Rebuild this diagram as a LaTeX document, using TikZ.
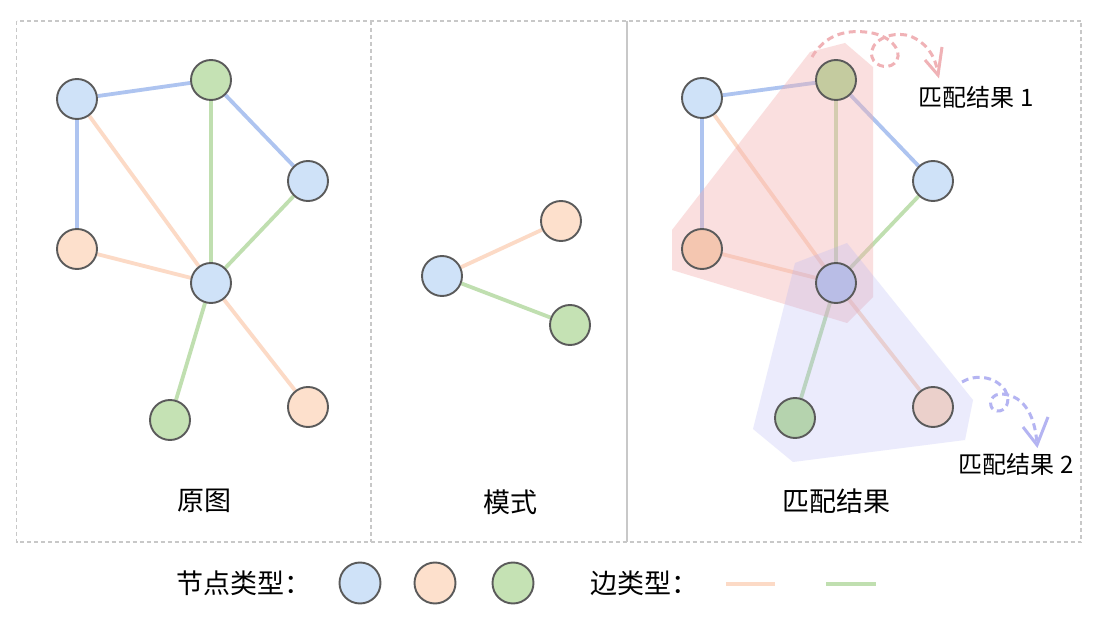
\documentclass[tikz,border=0pt]{standalone}
\usepackage{fontspec}
\setmainfont{Noto Sans CJK SC}
\usetikzlibrary{arrows.meta,calc}
\definecolor{nblue}{HTML}{CFE2F8}
\definecolor{norange}{HTML}{FDE0CC}
\definecolor{ngreen}{HTML}{C5E2B4}
\definecolor{eblue}{HTML}{AEC4F0}
\definecolor{eorange}{HTML}{FCDAC6}
\definecolor{egreen}{HTML}{C0DFB0}
\definecolor{bordergray}{HTML}{5A5A5A}
\definecolor{framegray}{HTML}{C8C8C8}
\definecolor{pinkshade}{HTML}{F4B0B0}
\definecolor{purpshade}{HTML}{B0B0F5}
\definecolor{pinkarrow}{HTML}{F0B2B6}
\definecolor{purparrow}{HTML}{B4B4F2}
\definecolor{mOlive}{HTML}{C4CB9F}
\definecolor{mOrange}{HTML}{F4C6B0}
\definecolor{mPurple}{HTML}{B9BDE6}
\definecolor{mGreen}{HTML}{B5D3AE}
\definecolor{mPink}{HTML}{EBD0CB}
\pgfdeclarelayer{bg}
\pgfdeclarelayer{edges}
\pgfdeclarelayer{shade}
\pgfsetlayers{bg,edges,shade,main}
\begin{document}
\begin{tikzpicture}[x=1pt,y=-1pt,
  vtx/.style={circle,draw=bordergray,line width=1.9pt,minimum size=40pt,inner sep=0pt},
  vb/.style={vtx,fill=nblue},
  vo/.style={vtx,fill=norange},
  vg/.style={vtx,fill=ngreen},
  eb/.style={draw=eblue,line width=3.8pt},
  eo/.style={draw=eorange,line width=3.8pt},
  eg/.style={draw=egreen,line width=3.8pt},
  frame/.style={draw=framegray,line width=1.4pt,dash pattern=on 4pt off 3pt},
  title/.style={font=\fontsize{27}{27}\selectfont,inner sep=0pt},
  lab/.style={font=\fontsize{24}{24}\selectfont,inner sep=0pt},
  curly/.style={line width=3pt,dash pattern=on 7pt off 4.5pt},
  headstyle/.style={line width=3pt,line join=miter}]
\useasboundingbox (0,0) rectangle (1096,620);
\begin{pgfonlayer}{bg}
\fill[white] (0,0) rectangle (1096,620);
\end{pgfonlayer}

% frame
\draw[frame] (16.5,21) rectangle (1081,542);
\draw[frame] (371,21) -- (371,542);
\draw[draw=framegray,line width=1.6pt] (627,21) -- (627,542);

% left graph
\node[vb] (A) at (77,99) {};
\node[vg] (B) at (211,80) {};
\node[vb] (C) at (308,181) {};
\node[vo] (D) at (77,249) {};
\node[vb] (E) at (211,283) {};
\node[vg] (F) at (170,420) {};
\node[vo] (G) at (308,407) {};
\begin{pgfonlayer}{edges}
\draw[eb] (A) -- (B);
\draw[eb] (A) -- (D);
\draw[eb] (B) -- (C);
\draw[eg] (B) -- (E);
\draw[eg] (C) -- (E);
\draw[eo] (A) -- (E);
\draw[eo] (D) -- (E);
\draw[eg] (E) -- (F);
\draw[eo] (E) -- (G);
\end{pgfonlayer}

% pattern
\node[vb] (H) at (442,276) {};
\node[vo] (I) at (561,221) {};
\node[vg] (J) at (570,325) {};
\begin{pgfonlayer}{edges}
\draw[eo] (H) -- (I);
\draw[eg] (H) -- (J);
\end{pgfonlayer}

% match result graph
\node[vb] (A2) at (702,98) {};
\node[vtx,fill=mOlive] (B2) at (836,80) {};
\node[vb] (C2) at (933,181) {};
\node[vtx,fill=mOrange] (D2) at (702,249) {};
\node[vtx,fill=mPurple] (E2) at (836,283) {};
\node[vtx,fill=mGreen] (F2) at (795,418) {};
\node[vtx,fill=mPink] (G2) at (933,407) {};
\begin{pgfonlayer}{edges}
\draw[eb] (A2) -- (B2);
\draw[eb] (A2) -- (D2);
\draw[eb] (B2) -- (C2);
\draw[eg] (B2) -- (E2);
\draw[eg] (C2) -- (E2);
\draw[eo] (A2) -- (E2);
\draw[eo] (D2) -- (E2);
\draw[eg] (E2) -- (F2);
\draw[eo] (E2) -- (G2);
\end{pgfonlayer}

% shaded match regions
\begin{pgfonlayer}{shade}
\fill[pinkshade,fill opacity=0.4] (672,230) -- (810,52) -- (845,43) -- (873,67) -- (873,297) -- (847,323) -- (672,270) -- cycle;
\fill[purpshade,fill opacity=0.25] (795,263) -- (847,243) -- (973,400) -- (965,440) -- (793,462) -- (753,429) -- cycle;
\end{pgfonlayer}

% curly arrows
\coordinate (p1s) at (812,57);
\coordinate (p1e) at (938,75);
\draw[curly,pinkarrow] (p1s) .. controls (825,35) and (845,30) .. (865,32)
  .. controls (890,34) and (902,50) .. (897,60)
  .. controls (892,70) and (875,68) .. (872,57)
  .. controls (868,42) and (890,30) .. (910,36)
  .. controls (925,42) and (936,55) .. (p1e);
\draw[headstyle,pinkarrow] ($(p1e)+(-13,-15)$) -- (p1e) -- ($(p1e)+(4,-28)$);
\coordinate (p2s) at (962,382);
\coordinate (p2e) at (1037,445);
\draw[curly,purparrow] (p2s) .. controls (975,374) and (995,376) .. (1005,390)
  .. controls (1012,402) and (1005,412) .. (997,411)
  .. controls (988,410) and (988,395) .. (1000,394)
  .. controls (1020,394) and (1035,410) .. (p2e);
\draw[headstyle,purparrow] ($(p2e)+(-14,-18)$) -- (p2e) -- ($(p2e)+(11,-28)$);

\node[lab] (m1) at (976,97) {匹配结果 1};
\node[lab] (m2) at (1016,464) {匹配结果 2};

% titles
\node[title] (t1) at (204,501) {原图};
\node[title] (t2) at (510,502) {模式};
\node[title] (t3) at (836,501) {匹配结果};

% legend
\node[title,anchor=west] (l1) at (176,583) {节点类型：};
\node[vb,minimum size=41pt] (lb) at (360,583) {};
\node[vo,minimum size=41pt] (lo) at (435,583) {};
\node[vg,minimum size=41pt] (lg) at (513,583) {};
\node[title,anchor=west] (l2) at (590,583) {边类型：};
\coordinate (lo1) at (726,584);
\coordinate (lo2) at (775,584);
\coordinate (lg1) at (826,584);
\coordinate (lg2) at (876,584);
\draw[eo] (lo1) -- (lo2);
\draw[eg] (lg1) -- (lg2);
\end{tikzpicture}
\end{document}
